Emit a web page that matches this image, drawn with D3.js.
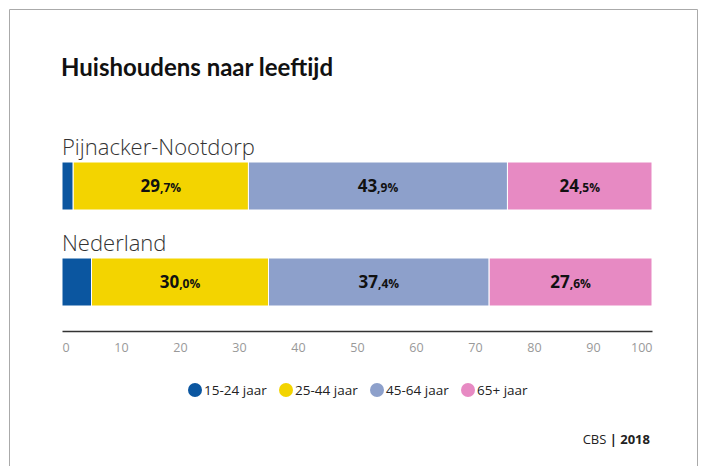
<!DOCTYPE html>
<html><head><meta charset="utf-8">
<script src="https://cdn.jsdelivr.net/npm/d3@7"></script>
<style>
html,body{margin:0;padding:0;background:#fff;}
svg{display:block;font-family:"Open Sans",sans-serif;}
</style></head>
<body>
<svg id="chart" width="705" height="466"></svg>
<script>
const categories = ["Pijnacker-Nootdorp", "Nederland"];
const seriesNames = ["15-24 jaar", "25-44 jaar", "45-64 jaar", "65+ jaar"];
const seriesColors = ["#0b56a0", "#f3d400", "#8da0cb", "#e78ac3"];
const values1524 = [1.9, 5.0];
const values2544 = [29.7, 30.0];
const values4564 = [43.9, 37.4];
const values65 = [24.5, 27.6];
const tickValues = [0, 10, 20, 30, 40, 50, 60, 70, 80, 90, 100];

const svg = d3.select("#chart");
// frame
svg.append("path").attr("d", "M9.5,480 V9.5 H697.5 V480").attr("fill", "none").attr("stroke", "#aaa").attr("stroke-width", 1);

svg.append("text").attr("x", 61).attr("y", 76).text("Huishoudens naar leeftijd")
  .attr("font-family", "Lato, sans-serif").attr("font-weight", 700).attr("font-size", 24).attr("fill", "#111");

const x = d3.scaleLinear().domain([0, 100]).range([62, 652]);
const y = d3.scaleBand().domain(categories).range([162, 306]).paddingInner(0.5).paddingOuter(0);

const rows = categories.map((c, i) => ({cat: c, vals: [values1524[i], values2544[i], values4564[i], values65[i]]}));
const stackData = rows.map(r => { const o = {cat: r.cat}; seriesNames.forEach((s, j) => o[s] = r.vals[j]); return o; });
const stack = d3.stack().keys(seriesNames)(stackData);

const g = svg.append("g");
stack.forEach((layer, j) => {
  layer.forEach(d => {
    g.append("rect")
      .attr("x", x(d[0])).attr("width", x(d[1]) - x(d[0]))
      .attr("y", y(d.data.cat)).attr("height", y.bandwidth())
      .attr("fill", seriesColors[j]).attr("stroke", "#fff").attr("stroke-width", 1);
    if (j > 0) {
      const v = d[1] - d[0];
      const parts = v.toFixed(1).split(".");
      const t = g.append("text")
        .attr("x", x((d[0] + d[1]) / 2)).attr("y", y(d.data.cat) + y.bandwidth() / 2 + 6)
        .attr("text-anchor", "middle").attr("font-weight", 700).attr("fill", "#111")
        .attr("font-family", "Open Sans, sans-serif");
      t.append("tspan").attr("font-size", 17).text(parts[0]);
      t.append("tspan").attr("font-size", 12).text("," + parts[1] + "%");
    }
  });
});

// category labels
categories.forEach(c => {
  svg.append("text").attr("x", 62).attr("y", y(c) - 7).text(c)
    .attr("font-size", 22).attr("font-weight", 300).attr("fill", "#333");
});

// axis
const axis = d3.axisBottom(x).tickValues(tickValues).tickSize(0).tickPadding(12);
const ax = svg.append("g").attr("transform", "translate(0,331)").call(axis);
ax.select(".domain").attr("stroke", "#333").attr("stroke-width", 1.5);
ax.selectAll("text").attr("font-size", 12.5).attr("fill", "#999").attr("font-family", "Open Sans, sans-serif").attr("font-weight", 400)
  .attr("text-anchor", d => d === 0 ? "start" : (d === 100 ? "end" : "middle"));

// legend
const legendX = [195, 286, 377, 468];
seriesNames.forEach((s, j) => {
  svg.append("circle").attr("cx", legendX[j]).attr("cy", 390).attr("r", 7).attr("fill", seriesColors[j]);
  svg.append("text").attr("x", legendX[j] + 9).attr("y", 395).text(s)
    .attr("font-size", 13.5).attr("fill", "#222");
});

// source
const src = svg.append("text").attr("x", 650).attr("y", 444).attr("text-anchor", "end").attr("font-size", 13).attr("fill", "#222");
src.append("tspan").text("CBS ");
src.append("tspan").attr("font-weight", 700).text("| 2018");
</script>
</body></html>
